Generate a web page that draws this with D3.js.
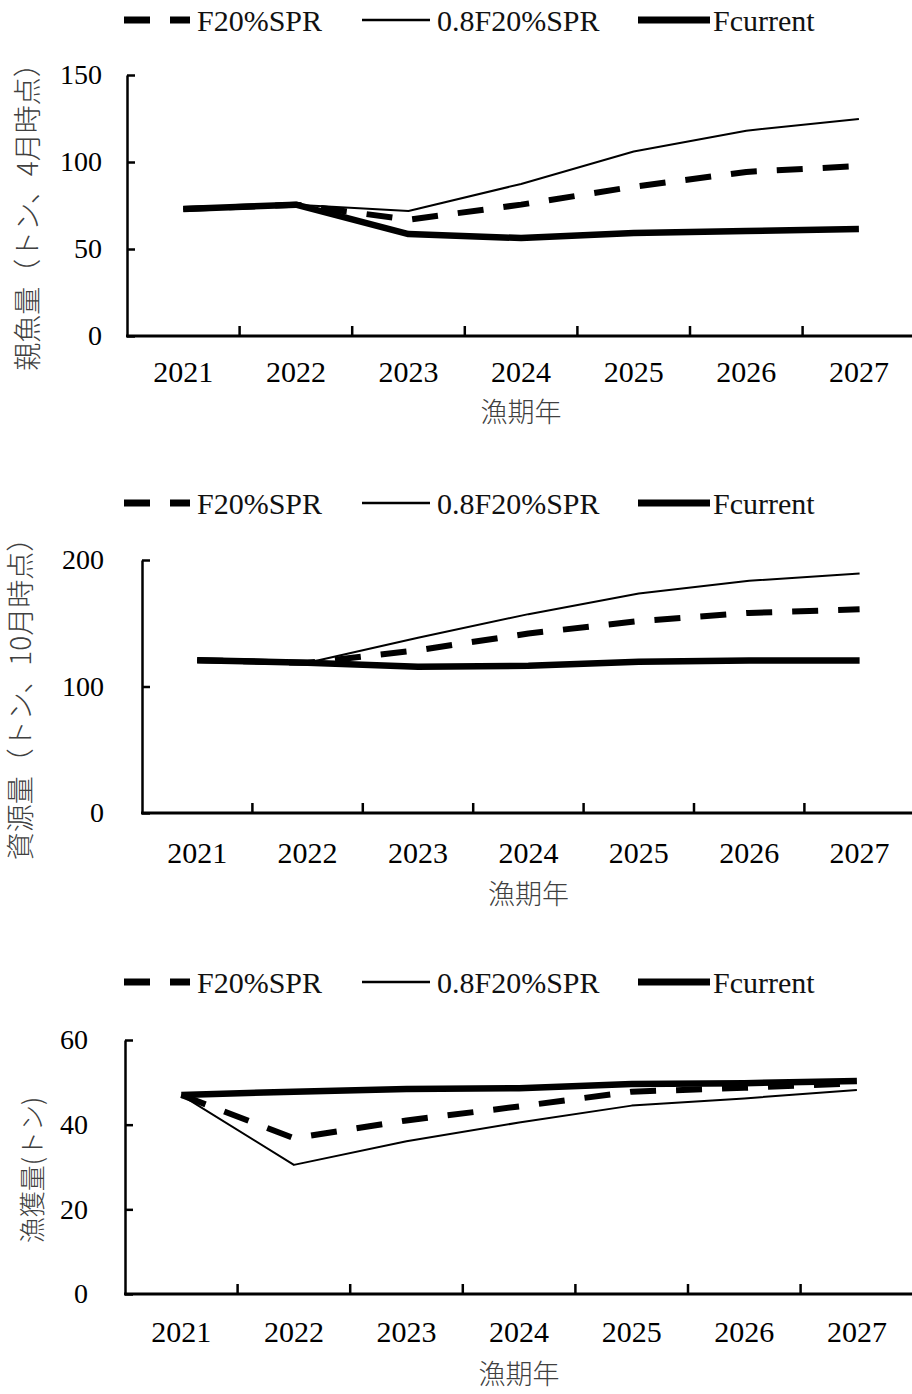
<!DOCTYPE html>
<html>
<head>
<meta charset="utf-8">
<script src="https://cdn.jsdelivr.net/npm/d3@7"></script>
<style>
  body { margin: 0; background: #fff; }
  svg { display: block; }
</style>
</head>
<body>
<svg id="fig" width="912" height="1394"></svg>
<script>
// Fishing years
const years = ["2021", "2022", "2023", "2024", "2025", "2026", "2027"];
const seriesNames = ["F20%SPR", "0.8F20%SPR", "Fcurrent"];

// Spawning stock biomass (t, April)
const ssbF20 = [73, 75.5, 66.8, 75.5, 85.8, 94.3, 97.7];
const ssb08F20 = [73, 75.5, 71.8, 87.4, 106, 118, 124.7];
const ssbFcurrent = [73, 75.5, 58.6, 56.3, 59.2, 60.3, 61.5];
const ssbTicks = [0, 50, 100, 150];

// Stock biomass (t, October)
const bioF20 = [120.8, 118.7, 128.7, 141.9, 151.7, 158.2, 161];
const bio08F20 = [120.8, 118.7, 138.5, 157.2, 173.5, 183.6, 189.3];
const bioFcurrent = [120.8, 118.7, 115.6, 116.4, 119.5, 120.6, 120.6];
const bioTicks = [0, 100, 200];

// Catch (t)
const catchF20 = [47, 36.8, 41, 44.3, 47.8, 48.7, 49.8];
const catch08F20 = [47, 30.5, 36.1, 40.5, 44.5, 46.2, 48.2];
const catchFcurrent = [47, 47.8, 48.4, 48.6, 49.6, 49.8, 50.3];
const catchTicks = [0, 20, 40, 60];

const serifFont = '"Liberation Serif", "Times New Roman", serif';
const cjkFont = '"Noto Sans CJK JP", "Noto Sans CJK SC", sans-serif';

// Line style per scenario
const lineStyles = [
  { width: 6, dash: "26,20" },
  { width: 2, dash: null },
  { width: 6.5, dash: null }
];

const panels = [
  {
    series: [ssbF20, ssb08F20, ssbFcurrent], ticks: ssbTicks,
    x0: 127, step: 112.6, yTop: 75, yBot: 336, yPad: 25, xPad: 25,
    legendY: 20, yTitle: "親魚量（トン、4月時点）", yTitleSize: 28,
    yTitleX: 28, yTitleY: 210, xTitleY: 413
  },
  {
    series: [bioF20, bio08F20, bioFcurrent], ticks: bioTicks,
    x0: 142, step: 110.4, yTop: 560, yBot: 813, yPad: 38, xPad: 29,
    legendY: 503, yTitle: "資源量（トン、10月時点）", yTitleSize: 28,
    yTitleX: 21, yTitleY: 692, xTitleY: 895
  },
  {
    series: [catchF20, catch08F20, catchFcurrent], ticks: catchTicks,
    x0: 125, step: 112.6, yTop: 1040, yBot: 1294, yPad: 37, xPad: 27,
    legendY: 982, yTitle: "漁獲量(トン)", yTitleSize: 26,
    yTitleX: 33, yTitleY: 1170, xTitleY: 1375
  }
];

const svg = d3.select("#fig");

function drawLegend(g, cy) {
  const items = [
    { x1: 124, x2: 190, tx: 197 },
    { x1: 362, x2: 430, tx: 437 },
    { x1: 638, x2: 710, tx: 713 }
  ];
  items.forEach((it, i) => {
    const st = lineStyles[i];
    g.append("line")
      .attr("x1", it.x1).attr("x2", it.x2)
      .attr("y1", cy).attr("y2", cy)
      .attr("stroke", "#000")
      .attr("stroke-width", i === 1 ? 2.5 : 7)
      .attr("stroke-dasharray", st.dash);
    g.append("text")
      .attr("x", it.tx).attr("y", cy)
      .attr("dy", "0.35em")
      .attr("font-family", serifFont)
      .attr("font-size", 30)
      .attr("fill", "#111")
      .text(seriesNames[i]);
  });
}

panels.forEach(p => {
  const g = svg.append("g");
  const yMax = p.ticks[p.ticks.length - 1];

  const x = d3.scaleBand().domain(years)
    .range([p.x0, p.x0 + p.step * years.length]).padding(0);
  const y = d3.scaleLinear().domain([0, yMax]).range([p.yBot, p.yTop]);

  drawLegend(g, p.legendY);

  // y axis with inward ticks
  const yAxis = d3.axisLeft(y).tickValues(p.ticks)
    .tickSizeInner(-8).tickSizeOuter(0).tickPadding(p.yPad);
  const ya = g.append("g").attr("transform", `translate(${p.x0},0)`).call(yAxis);
  ya.select(".domain").attr("stroke-width", 2.5);
  ya.selectAll(".tick line").attr("stroke-width", 2.5);
  ya.selectAll(".tick text")
    .attr("font-family", serifFont).attr("font-size", 28).attr("fill", "#000");

  // x axis: year labels at category centres
  const xAxis = d3.axisBottom(x).tickSize(0).tickPadding(p.xPad);
  const xa = g.append("g").attr("transform", `translate(0,${p.yBot})`).call(xAxis);
  xa.select(".domain").remove();
  xa.selectAll(".tick text")
    .attr("font-family", serifFont).attr("font-size", 30).attr("fill", "#000");

  // x axis line and category boundary ticks
  g.append("line")
    .attr("x1", p.x0 - 1).attr("x2", 912)
    .attr("y1", p.yBot).attr("y2", p.yBot)
    .attr("stroke", "#000").attr("stroke-width", 3);
  g.selectAll(".xb").data(years.slice(1)).join("line")
    .attr("class", "xb")
    .attr("x1", d => x(d)).attr("x2", d => x(d))
    .attr("y1", p.yBot).attr("y2", p.yBot - 10)
    .attr("stroke", "#000").attr("stroke-width", 2.5);

  // Scenario lines
  const line = d3.line()
    .x((d, i) => x(years[i]) + x.bandwidth() / 2)
    .y(d => y(d));
  p.series.forEach((vals, i) => {
    const st = lineStyles[i];
    g.append("path")
      .datum(vals)
      .attr("d", line)
      .attr("fill", "none")
      .attr("stroke", "#000")
      .attr("stroke-width", st.width)
      .attr("stroke-dasharray", st.dash)
      .attr("stroke-linejoin", "round");
  });

  // Axis titles
  g.append("text")
    .attr("transform", `translate(${p.yTitleX},${p.yTitleY}) rotate(-90)`)
    .attr("text-anchor", "middle").attr("dy", "0.35em")
    .attr("font-family", cjkFont).attr("font-size", p.yTitleSize)
    .attr("font-weight", 300)
    .attr("fill", "#404040")
    .text(p.yTitle);
  g.append("text")
    .attr("x", p.x0 + p.step * years.length / 2).attr("y", p.xTitleY)
    .attr("text-anchor", "middle").attr("dy", "0.35em")
    .attr("font-family", cjkFont).attr("font-size", 27)
    .attr("font-weight", 300)
    .attr("fill", "#404040")
    .text("漁期年");
});
</script>
</body>
</html>
